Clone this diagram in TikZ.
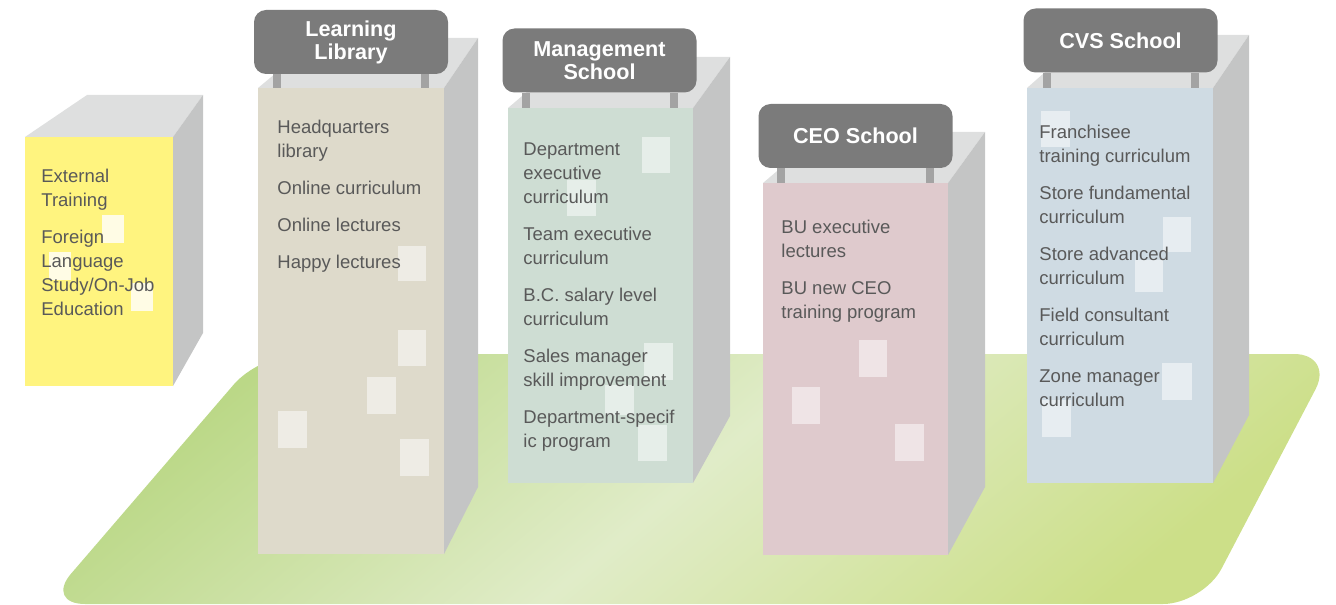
\documentclass[tikz,border=0pt]{standalone}
\usepackage{fontspec}
\setmainfont{Liberation Sans}
\usetikzlibrary{positioning,calc}

\definecolor{extyellow}{HTML}{FFF47F}
\definecolor{libbeige}{HTML}{DEDACB}
\definecolor{mgmtgreen}{HTML}{CEDDD3}
\definecolor{ceopink}{HTML}{DFCACD}
\definecolor{cvsblue}{HTML}{CFDBE3}
\definecolor{roofgray}{HTML}{DEDFDF}
\definecolor{wallgray}{HTML}{C4C5C5}
\definecolor{signgray}{HTML}{7B7B7B}
\definecolor{postgray}{HTML}{A3A3A3}
\definecolor{txtgray}{HTML}{595959}
\definecolor{grassdark}{HTML}{BBD887}
\definecolor{grasslight}{HTML}{E0ECC8}
\definecolor{grassright}{HTML}{CCDF88}

\begin{document}
\begin{tikzpicture}[
    x=0.5pt, y=-0.5pt,
    roof/.style={fill=roofgray},
    wall/.style={fill=wallgray},
    win/.style={fill=white, fill opacity=0.5},
    post/.style={fill=postgray},
    sign/.style={fill=signgray, rounded corners=6pt, minimum width=97pt, minimum height=32pt, inner sep=0pt, align=center, text=white, font=\bfseries\fontsize{10.8}{11.5}\selectfont},
    items/.style={anchor=north west, inner sep=0pt, align=left, text=txtgray, font=\fontsize{9.25}{12}\selectfont}
]
    \useasboundingbox (0,0) rectangle (1336,604);

    % Ground
    \shade[left color=grassdark, right color=grassright, middle color=grasslight, shading angle=40, rounded corners=20pt]
        (600,604) -- (1203,604) -- (1334,354) -- (260,354) -- (45,604) -- cycle;

    % External Training
    \fill[roof] (25,137) -- (173,137) -- (203,95) -- (87,95) -- cycle;
    \fill[wall] (173,137) -- (203,95) -- (203,333) -- (173,386) -- cycle;
    \fill[extyellow] (25,137) rectangle (173,386);
    \fill[win, fill opacity=0.8] (102,215) rectangle (124,243);
    \fill[win, fill opacity=0.8] (49,252) rectangle (71,280);
    \fill[win, fill opacity=0.8] (131,283) rectangle (153,311);
    \node[items] (ext) at (41,169) {External\\Training\\[6.5pt]Foreign\\Language\\Study/On-Job\\Education};

    % Learning Library
    \fill[roof] (258,88) -- (444,88) -- (478,38) -- (318,38) -- cycle;
    \fill[wall] (444,88) -- (478,38) -- (478,487) -- (444,554) -- cycle;
    \fill[libbeige] (258,88) rectangle (444,554);
    \fill[win] (398,246) rectangle (426,281);
    \fill[win] (398,330) rectangle (426,366);
    \fill[win] (367,377) rectangle (396,414);
    \fill[win] (278,411) rectangle (307,448);
    \fill[win] (400,439) rectangle (429,476);
    \node[items] (lib) at (277,120) {Headquarters\\library\\[6.5pt]Online curriculum\\[6.5pt]Online lectures\\[6.5pt]Happy lectures};
    \fill[post] (273,74) rectangle (281,88);
    \fill[post] (421,74) rectangle (429,88);
    \node[sign] (libsign) at (351,42) {Learning\\Library};

    % Management School
    \fill[roof] (508,108) -- (693,108) -- (730,57) -- (568,57) -- cycle;
    \fill[wall] (693,108) -- (730,57) -- (730,416) -- (693,483) -- cycle;
    \fill[mgmtgreen] (508,108) rectangle (693,483);
    \fill[win] (642,137) rectangle (670,173);
    \fill[win] (567,180) rectangle (596,216);
    \fill[win] (644,343) rectangle (673,380);
    \fill[win] (605,385) rectangle (634,415);
    \fill[win] (638,425) rectangle (667,461);
    \node[items] (mgmt) at (523,142) {Department\\executive\\curriculum\\[6.5pt]Team executive\\curriculum\\[6.5pt]B.C. salary level\\curriculum\\[6.5pt]Sales manager\\skill improvement\\[6.5pt]Department-specif\\ic program};
    \fill[post] (522,93) rectangle (530,108);
    \fill[post] (670,93) rectangle (678,108);
    \node[sign] (mgmtsign) at (599.5,60.5) {Management\\School};

    % CEO School
    \fill[roof] (763,183) -- (948,183) -- (985,132) -- (823,132) -- cycle;
    \fill[wall] (948,183) -- (985,132) -- (985,487) -- (948,555) -- cycle;
    \fill[ceopink] (763,183) rectangle (948,555);
    \fill[win] (859,340) rectangle (887,377);
    \fill[win] (792,387) rectangle (820,424);
    \fill[win] (895,424) rectangle (924,461);
    \node[items] (ceo) at (781,220) {BU executive\\lectures\\[6.5pt]BU new CEO\\training program};
    \fill[post] (777,168) rectangle (785,183);
    \fill[post] (926,168) rectangle (934,183);
    \node[sign] (ceosign) at (855.5,136) {CEO School};

    % CVS School
    \fill[roof] (1027,88) -- (1213,88) -- (1249,35) -- (1087,35) -- cycle;
    \fill[wall] (1213,88) -- (1249,35) -- (1249,415) -- (1213,483) -- cycle;
    \fill[cvsblue] (1027,88) rectangle (1213,483);
    \fill[win] (1041,111) rectangle (1070,147);
    \fill[win] (1163,217) rectangle (1191,252);
    \fill[win] (1135,260) rectangle (1163,292);
    \fill[win] (1162,363) rectangle (1192,400);
    \fill[win] (1042,400) rectangle (1071,437);
    \node[items] (cvs) at (1039,125) {Franchisee\\training curriculum\\[6.5pt]Store fundamental\\curriculum\\[6.5pt]Store advanced\\curriculum\\[6.5pt]Field consultant\\curriculum\\[6.5pt]Zone manager\\curriculum};
    \fill[post] (1043,73) rectangle (1051,88);
    \fill[post] (1191,73) rectangle (1199,88);
    \node[sign] (cvssign) at (1120.5,40.5) {CVS School};

\end{tikzpicture}
\end{document}
